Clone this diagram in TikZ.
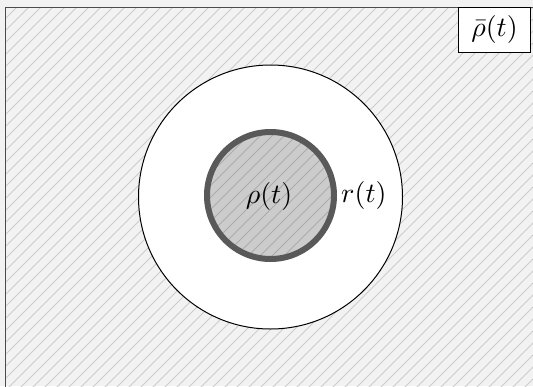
\documentclass[tikz,border=0pt]{standalone}
\begin{document}
\begin{tikzpicture}[x=1pt,y=-1pt,
  hatch/.style={draw=black!20, line width=1pt},
  lbl/.style={inner sep=0pt}]
\useasboundingbox (0,0) rectangle (533,386);
\fill[black!5] (0,0) rectangle (533,386);
% hatched region
\begin{scope}
  \clip (5.5,7.5) rectangle (540,400);
  \foreach \c in {0,12,...,936} {
    \draw[hatch] (\c,0) -- (\c-400,400);
  }
\end{scope}
\draw[black!70, line width=1pt] (5.5,400) -- (5.5,7.5) -- (540,7.5);
% outer circle
\node[circle, draw=black, fill=white, line width=1pt, minimum size=264pt, inner sep=0pt] (outer) at (270.5,197) {};
% inner circle
\begin{scope}
  \fill[black!20] (270.5,195.5) circle (63.5);
  \clip (270.5,195.5) circle (63.5);
  \foreach \c in {0,12,...,936} {
    \draw[draw=black!33, line width=1pt] (\c,0) -- (\c-400,400);
  }
\end{scope}
\node[circle, draw=black!65, line width=6pt, minimum size=127pt, inner sep=0pt] (inner) at (270.5,195.5) {};
\node[lbl] (rho) at (269,196) {\scalebox{2.8}{$\rho(t)$}};
\node[lbl, anchor=west, xshift=4pt] (r) at (inner.east) {\scalebox{2.8}{$r(t)$}};
% top right box
\node[draw=black, fill=white, line width=1pt, minimum width=72pt, minimum height=45pt, inner sep=0pt] (box) at (494.5,29.5) {\scalebox{2.8}{$\bar\rho(t)$}};
\end{tikzpicture}
\end{document}
